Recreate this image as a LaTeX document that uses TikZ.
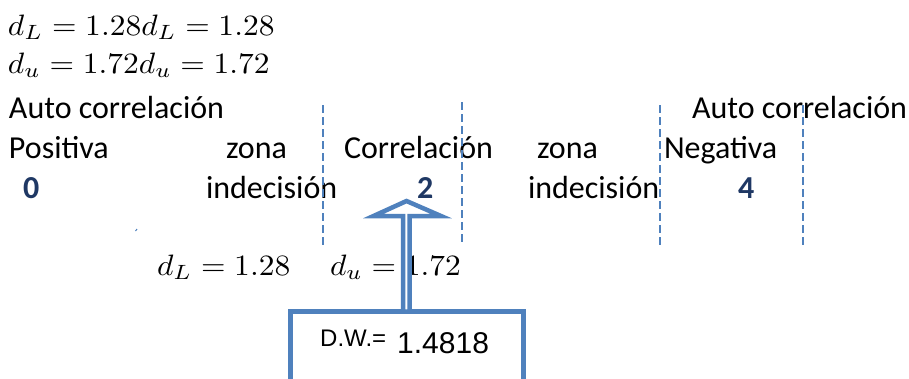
\documentclass[tikz,border=0pt]{standalone}
\usepackage{fontspec}
\setmainfont{Carlito}
\newfontfamily\arialfont{Liberation Sans}
\definecolor{lineblue}{HTML}{4F81BD}
\definecolor{numblue}{HTML}{1F3864}
\newcommand{\bigeq}[1]{\scalebox{3.15}[2.95]{$#1$}}
\begin{document}
\begin{tikzpicture}[x=1pt,y=-1pt,
  txt/.style={font=\fontsize{32}{38}\selectfont, anchor=base west, inner sep=0pt, outer sep=0pt},
  num/.style={txt, font=\fontsize{32}{38}\selectfont\bfseries, text=numblue},
  eq/.style={font=\fontsize{10}{12}\selectfont, anchor=base west, inner sep=0pt, outer sep=0pt},
  zoneline/.style={draw=lineblue, line width=2.2pt, dash pattern=on 8pt off 4pt},
  bluebox/.style={draw=lineblue, line width=5pt, fill=white, inner sep=0pt, outer sep=0pt},
  blockarrow/.style={draw=lineblue, line width=4.5pt, fill=white, line join=miter}]
\useasboundingbox (0,0) rectangle (909,378);
\clip (0,0) rectangle (909,378);

% critical values of the Durbin-Watson test
\node[eq] (eqL) at (8,35) {\bigeq{d_L = 1.28d_L = 1.28}};
\node[eq] (equ) at (8,73) {\bigeq{d_u = 1.72d_u = 1.72}};

% decision zones along the 0..4 scale
\node[txt] (acpos) at (9,118) {Auto correlación};
\node[txt] (acneg) at (692,118) {Auto correlación};
\node[txt] (pos) at (9,158) {Positiva};
\node[txt] (zona1) at (226,158) {zona};
\node[txt] (corr) at (344,158) {Correlación};
\node[txt] (zona2) at (537,158) {zona};
\node[txt] (neg) at (664,158) {Negativa};
\node[num] (n0) at (23,198) {0};
\node[txt] (ind1) at (206,198) {indecisión};
\node[num] (n2) at (417,198) {2};
\node[txt] (ind2) at (528,198) {indecisión};
\node[num] (n4) at (738,198) {4};

% zone boundaries
\coordinate (z1t) at (323,105); \coordinate (z1b) at (323,248);
\coordinate (z2t) at (462,102); \coordinate (z2b) at (462,244);
\coordinate (z3t) at (660,105); \coordinate (z3b) at (660,248);
\coordinate (z4t) at (803,105); \coordinate (z4b) at (803,248);
\draw[zoneline] (z1t) -- (z1b);
\draw[zoneline] (z2t) -- (z2b);
\draw[zoneline] (z3t) -- (z3b);
\draw[zoneline] (z4t) -- (z4b);

\draw[lineblue, line width=1pt] (135.5,231) -- (137,229);

% bounds below the scale
\node[eq] (bL) at (157,275) {\bigeq{d_L = 1.28}};
\node[eq] (bU) at (330,275) {\bigeq{d_u = 1.72}};

% statistic box and block arrow pointing at the scale
\node[bluebox, anchor=north west, minimum width=233pt, minimum height=120pt] (dwbox) at (290,311.5) {};
\node[anchor=base west, inner sep=0pt, font={\arialfont\fontsize{24}{28}\selectfont}] (dwlabel) at (320,346) {D.W.=};
\node[anchor=base west, inner sep=0pt, font={\arialfont\fontsize{30}{36}\selectfont}] (dwvalue) at (397,353) {1.4818};
\coordinate (tip) at (406.5,201);
\draw[blockarrow] ([xshift=-3.5pt]dwbox.north) -- ++(0,-95.5) -- ++(-29.5,0) -- (tip)
  -- ++(34.5,15) -- ++(-31.5,0) -- ++(0,95.5) -- cycle;
\end{tikzpicture}
\end{document}
